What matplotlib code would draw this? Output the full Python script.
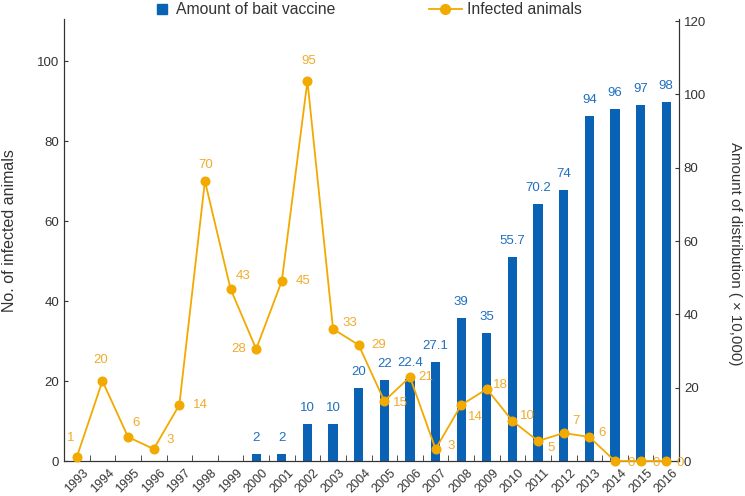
import matplotlib
matplotlib.use("Agg")
import matplotlib.pyplot as plt
from matplotlib.lines import Line2D
import numpy as np

plt.rcParams['font.family'] = ['Liberation Sans', 'DejaVu Sans']

years = [str(y) for y in range(1993, 2017)]
infected = [1, 20, 6, 3, 14, 70, 43, 28, 45, 95, 33, 29, 15, 21, 3, 14, 18, 10, 5, 7, 6, 0, 0, 0]
bait_years = [str(y) for y in range(2000, 2017)]
bait = [2, 2, 10, 10, 20, 22, 22.4, 27.1, 39, 35, 55.7, 70.2, 74, 94, 96, 97, 98]
bait_labels = ["2", "2", "10", "10", "20", "22", "22.4", "27.1", "39", "35", "55.7",
               "70.2", "74", "94", "96", "97", "98"]

# label offsets (pixels) for the infected-animal labels
line_label_offsets = [(-6, 19), (-2, 21), (8, 14), (16, 9), (21, 0), (1, 16), (13, 13),
                      (-17, 0), (21, 0), (1, 20), (17, 6), (20, 0), (16, -2), (16, 0),
                      (16, 3), (14, -12), (14, 4), (15, 5), (13, -7), (12, 12), (13, 4),
                      (16, -2), (16, -2), (14, -2)]

BLUE = '#0a62b4'
BLUE_TXT = '#1f6fc0'
ORANGE = '#f2a900'
ORANGE_TXT = '#f0ac2a'
DARK = '#333333'

fig = plt.figure(figsize=(7.45, 4.96), dpi=100)
W, H = 745, 496
ax = fig.add_axes([64 / W, (H - 461) / H, (679 - 64) / W, (461 - 19) / H])
ax2 = ax.twinx()
ax.set_zorder(ax2.get_zorder() + 1)
ax.patch.set_visible(False)

x = np.arange(len(years))
xb = np.array([years.index(y) for y in bait_years])

# bars on right axis
ax2.bar(xb, bait, width=0.36, color=BLUE, zorder=2)
for xi, v, lab in zip(xb, bait, bait_labels):
    ax2.annotate(lab, (xi, v), xytext=(0, 16), textcoords='offset pixels',
                 ha='center', va='center', color=BLUE_TXT, fontsize=9.5)

# line on left axis
ax.plot(x, infected, color=ORANGE, lw=1.3, marker='o', markersize=6.2, zorder=3,
        clip_on=False)
for xi, v, (dx, dy) in zip(x, infected, line_label_offsets):
    ax.annotate(str(v), (xi, v), xytext=(dx, dy), textcoords='offset pixels',
                ha='center', va='center', color=ORANGE_TXT, fontsize=9.5)

ax.set_xlim(-0.5, len(years) - 0.5)
ax.set_ylim(0, 110.5)
ax2.set_ylim(0, 120.6)
ax.set_yticks(range(0, 101, 20))
ax2.set_yticks(range(0, 121, 20))

ax.set_xticks(x)
ax.set_xticklabels(years, rotation=45, fontsize=9, color=DARK)
ax.set_xticks(np.arange(0.5, len(years) - 0.5, 1), minor=True)
ax.tick_params(axis='x', which='major', length=0, pad=4)
ax.tick_params(axis='x', which='minor', direction='in', length=4, color=DARK)
ax.tick_params(axis='y', direction='in', length=3, labelsize=9.5, colors=DARK)
ax2.tick_params(axis='y', direction='in', length=3, labelsize=9.5, colors=DARK)
ax2.tick_params(axis='x', length=0)

for a in (ax, ax2):
    a.spines['top'].set_visible(False)
    for s in ('left', 'right', 'bottom'):
        a.spines[s].set_color(DARK)
        a.spines[s].set_linewidth(0.8)

ax.set_ylabel('No. of infected animals', fontsize=11.5, color=DARK, va='center')
ax2.set_ylabel('Amount of distribution ( × 10,000)', fontsize=10.8, color=DARK,
               rotation=-90, va='center', ha='center')
ax.yaxis.set_label_coords((10 - 64) / 615, (461 - 231) / 442)
ax2.yaxis.set_label_coords((735 - 64) / 615, (461 - 253.5) / 442)

h1 = Line2D([], [], marker='s', linestyle='none', color=BLUE, markersize=7)
h2 = Line2D([], [], marker='o', color=ORANGE, lw=1.3, markersize=7)
leg1 = fig.legend([h1], ['Amount of bait vaccine'], loc='center left',
                  bbox_to_anchor=(156 / W, 1 - 10 / H), frameon=False, fontsize=11.3,
                  handlelength=0.75, handletextpad=0.5, borderpad=0, borderaxespad=0)
leg2 = fig.legend([h2], ['Infected animals'], loc='center left',
                  bbox_to_anchor=(429 / W, 1 - 10 / H), frameon=False, fontsize=11.3,
                  handlelength=2.1, handletextpad=0.35, borderpad=0, borderaxespad=0)
for leg in (leg1, leg2):
    for t in leg.get_texts():
        t.set_color(DARK)

fig.savefig('out.png', dpi=100)
